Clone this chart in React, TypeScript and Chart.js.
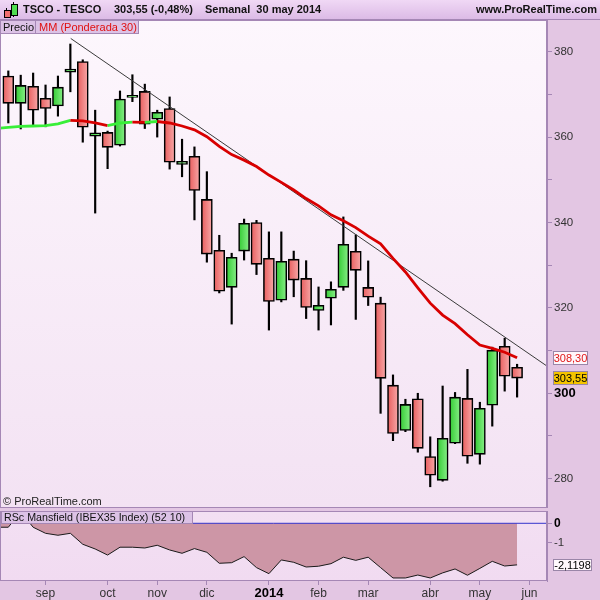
import React, { useEffect, useRef } from "react";
import { Chart, registerables } from "chart.js";
Chart.register(...registerables);

const FONT = "'Liberation Sans', Arial, Helvetica, sans-serif";

// Weekly candles (index 0 = first visible week)
const opens = [374.3, 367.9, 371.9, 369.1, 367.3, 375.2, 377.7, 360.2, 361.1, 358.1, 369.3, 370.7, 364.2, 366.7, 353.6, 355.5, 345.4, 333.5, 324.8, 333.3, 340.0, 331.6, 321.8, 331.4, 326.9, 319.4, 322.25, 324.8, 333.25, 324.8, 321.1, 301.9, 291.3, 298.7, 285.2, 279.6, 288.3, 298.8, 285.7, 297.2, 311.0, 306.1];
const highs = [375.5, 374.5, 375.0, 372.2, 374.3, 381.8, 378.1, 366.3, 361.4, 370.8, 374.6, 372.4, 366.3, 369.4, 359.5, 357.7, 351.9, 337.0, 332.8, 340.8, 340.5, 337.8, 337.8, 333.3, 331.05, 324.9, 326.1, 341.3, 337.1, 331.0, 322.5, 304.3, 298.6, 300.0, 289.8, 301.7, 300.2, 305.6, 297.9, 310.8, 312.9, 306.8];
const lows = [363.3, 361.9, 362.6, 362.4, 364.9, 370.6, 358.8, 342.2, 352.6, 357.9, 368.3, 362.0, 360.0, 352.5, 350.7, 340.6, 330.7, 323.5, 316.2, 331.2, 327.8, 314.8, 321.4, 322.6, 317.5, 314.8, 316.0, 324.1, 317.3, 320.55, 295.3, 288.9, 291.0, 286.2, 278.1, 279.4, 288.2, 283.6, 283.4, 292.3, 300.5, 299.1];
const closes = [367.9, 372.1, 366.3, 366.7, 371.7, 375.9, 362.3, 361.0, 357.6, 368.9, 369.8, 363.0, 365.8, 354.1, 354.3, 347.5, 332.6, 323.9, 331.85, 339.8, 330.2, 321.5, 330.9, 326.5, 320.1, 320.6, 324.35, 334.9, 328.8, 322.5, 303.5, 290.6, 297.4, 287.1, 280.8, 289.45, 299.1, 285.25, 296.5, 310.1, 304.0, 303.55];

// Weighted MA(30); first value belongs to the week before the first visible candle
const maValues = [362.0, 362.25, 362.5, 362.6, 362.7, 363.1, 363.9, 363.8, 363.3, 362.7, 363.3, 363.5, 363.45, 363.65, 363.3, 362.6, 361.7, 360.1, 357.8, 355.9, 354.6, 353.1, 351.1, 349.4, 347.6, 345.6, 343.9, 341.8, 340.4, 338.8, 336.8, 335.0, 331.6, 328.4, 324.7, 321.1, 318.3, 316.3, 313.7, 311.3, 310.5, 309.6, 308.3];

// RSc Mansfield; first value belongs to the week before the first visible candle
const rscValues = [-0.2, -0.2, 0.6, -0.2, -0.51, -0.61, -0.51, -1.07, -1.31, -1.62, -1.22, -1.22, -1.26, -1.12, -1.36, -1.53, -1.29, -1.48, -2.04, -2.01, -1.7, -2.26, -2.57, -1.87, -1.99, -2.23, -2.19, -2.06, -1.73, -1.89, -1.73, -2.26, -2.79, -2.79, -2.64, -2.79, -2.53, -2.33, -2.65, -2.3, -1.94, -2.18, -2.12];

// Trend line (week position, price)
const trendX = [5.03, 43.39];
const trendY = [383.1, 306.4];

const monthPositions = [3, 8, 12, 16, 21, 25, 29, 34, 38, 42];
const monthLabels = ["sep", "oct", "nov", "dic", "2014", "feb", "mar", "abr", "may", "jun"];
const priceTicks = [280, 290, 300, 310, 320, 330, 340, 350, 360, 370, 380];
const rscTicks = [0, -1];

const lastMA = 308.3;
const lastClose = 303.55;
const lastRsc = -2.1198;

const X_MIN = -0.67;
const X_MAX = 43.41;
const AXIS_W = 53;
const BORDER = "#a587b5";
const RED = "#d80000";
const LIME = "#38ee38";

const fmt = (v: number, d: number) => v.toFixed(d).replace(".", ",");

function bodyFill(c: any) {
  const raw = c.raw;
  if (!raw || !Array.isArray(raw.y)) return "#f08080";
  const up = raw.y[1] >= raw.y[0];
  const solid = up ? "#5cdc5c" : "#f08080";
  const xs = c.chart && c.chart.scales && c.chart.scales.x;
  if (!xs) return solid;
  const px = xs.getPixelForValue(raw.x);
  if (!Number.isFinite(px)) return solid;
  const g = c.chart.ctx.createLinearGradient(px - 5, 0, px + 5, 0);
  if (up) {
    g.addColorStop(0, "#36cc36");
    g.addColorStop(1, "#86ee86");
  } else {
    g.addColorStop(0, "#e86060");
    g.addColorStop(1, "#f7a6a6");
  }
  return g;
}

function drawBox(ctx: CanvasRenderingContext2D, x: number, y: number, w: number, h: number, fill: string, color: string, text: string) {
  ctx.save();
  const top = Math.round(y - h / 2);
  ctx.fillStyle = fill;
  ctx.fillRect(x, top, w, h);
  ctx.strokeStyle = "#9a86a8";
  ctx.lineWidth = 1;
  ctx.strokeRect(x + 0.5, top + 0.5, w - 1, h - 1);
  ctx.fillStyle = color;
  ctx.font = `11px ${FONT}`;
  ctx.textAlign = "center";
  ctx.textBaseline = "middle";
  ctx.fillText(text, x + w / 2, top + h / 2 + 0.5);
  ctx.restore();
}

function panelPlugin(top: string, bottom: string, boxes: (chart: any) => void) {
  return {
    id: "panel",
    beforeDraw(chart: any) {
      const { ctx, chartArea: a } = chart;
      if (!a) return;
      const g = ctx.createLinearGradient(0, a.top, 0, a.bottom);
      g.addColorStop(0, top);
      g.addColorStop(1, bottom);
      ctx.save();
      ctx.fillStyle = g;
      ctx.fillRect(a.left, a.top, a.right - a.left, a.bottom - a.top);
      ctx.restore();
    },
    afterDraw(chart: any) {
      const { ctx, chartArea: a } = chart;
      if (!a) return;
      ctx.save();
      ctx.strokeStyle = BORDER;
      ctx.lineWidth = 1;
      ctx.strokeRect(a.left + 0.5, a.top + 0.5, a.right - a.left - 1, a.bottom - a.top - 1);
      ctx.restore();
      boxes(chart);
    },
  };
}

export default function App() {
  const c1 = useRef<HTMLCanvasElement>(null);
  const c2 = useRef<HTMLCanvasElement>(null);

  useEffect(() => {
    const bodies = opens.map((o, i) => ({ x: i, y: [o, closes[i]] }));
    const wicks = lows.map((l, i) => ({ x: i, y: [l, highs[i]] }));
    const maPts = maValues.map((v, i) => ({ x: i - 1, y: v }));
    const trendPts = trendX.map((x, i) => ({ x, y: trendY[i] }));
    const rscPts = rscValues.map((v, i) => ({ x: i - 1, y: v }));

    const ch1 = new Chart(c1.current as HTMLCanvasElement, {
      type: "bar",
      data: {
        datasets: [
          {
            type: "line",
            label: "MM",
            data: maPts,
            borderWidth: 2.8,
            pointRadius: 0,
            borderColor: RED,
            segment: {
              borderColor: (s: any) => (s.p1.parsed.y >= s.p0.parsed.y ? LIME : RED),
            },
            order: 0,
          } as any,
          {
            type: "line",
            label: "trend",
            data: trendPts,
            borderWidth: 1,
            borderColor: "#3a3a3a",
            pointRadius: 0,
            order: 1,
          } as any,
          {
            type: "bar",
            label: "body",
            data: bodies,
            barThickness: 11,
            borderWidth: 1.6,
            borderColor: "#000",
            borderSkipped: false,
            backgroundColor: bodyFill,
            grouped: false,
            order: 2,
          } as any,
          {
            type: "bar",
            label: "wick",
            data: wicks,
            barThickness: 1.5,
            borderWidth: 0,
            backgroundColor: "#000",
            grouped: false,
            order: 3,
          } as any,
        ],
      },
      options: {
        animation: false,
        responsive: false,
        maintainAspectRatio: false,
        devicePixelRatio: 1,
        layout: { padding: 0 },
        plugins: { legend: { display: false }, tooltip: { enabled: false } },
        scales: {
          x: { type: "linear", min: X_MIN, max: X_MAX, display: false, offset: false },
          y: {
            type: "linear",
            position: "right",
            min: 273.13,
            max: 387.42,
            afterBuildTicks: (s: any) => {
              s.ticks = priceTicks.map((v) => ({ value: v }));
            },
            afterFit: (s: any) => {
              s.width = AXIS_W;
              s.paddingTop = 0;
              s.paddingBottom = 0;
            },
            grid: { drawOnChartArea: false, drawTicks: true, tickLength: 5, color: BORDER },
            border: { display: true, color: BORDER },
            ticks: {
              padding: 2,
              callback: (v: any) => (Number(v) % 20 === 0 ? String(v) : ""),
              font: (c: any) =>
                c.tick && c.tick.value === 300
                  ? { family: FONT, size: 13, weight: "bold" }
                  : { family: FONT, size: 11.5 },
              color: (c: any) => (c.tick && c.tick.value === 300 ? "#000" : "#333"),
            },
          },
        },
      } as any,
      plugins: [
        panelPlugin("#fdf7fd", "#f3e2f3", (chart: any) => {
          const y = chart.scales.y;
          const a = chart.chartArea;
          drawBox(chart.ctx, a.right + 6, y.getPixelForValue(lastMA), 35, 14, "#fff6fb", "#e01818", fmt(lastMA, 2));
          drawBox(chart.ctx, a.right + 6, y.getPixelForValue(lastClose), 35, 14, "#f4c400", "#000", fmt(lastClose, 2));
        }),
      ],
    });

    const ch2 = new Chart(c2.current as HTMLCanvasElement, {
      type: "line",
      data: {
        datasets: [
          {
            label: "zero",
            data: [
              { x: -1, y: 0 },
              { x: 44, y: 0 },
            ],
            borderColor: "#3434cc",
            borderWidth: 1,
            pointRadius: 0,
            order: 0,
          },
          {
            label: "RSc",
            data: rscPts,
            borderColor: "#1a1a1a",
            borderWidth: 1,
            pointRadius: 0,
            fill: { value: 0 },
            backgroundColor: "rgb(205,150,166)",
            order: 1,
          },
        ],
      },
      options: {
        animation: false,
        responsive: false,
        maintainAspectRatio: false,
        devicePixelRatio: 1,
        layout: { padding: { top: 1, left: 0, right: 0, bottom: 0 } },
        plugins: { legend: { display: false }, tooltip: { enabled: false } },
        scales: {
          x: {
            type: "linear",
            min: X_MIN,
            max: X_MAX,
            position: "bottom",
            afterBuildTicks: (s: any) => {
              s.ticks = monthPositions.map((v) => ({ value: v }));
            },
            afterFit: (s: any) => {
              s.height = 19;
              s.paddingLeft = 0;
              s.paddingRight = 0;
            },
            grid: { drawOnChartArea: false, drawTicks: true, tickLength: 4, color: BORDER },
            border: { display: false },
            ticks: {
              autoSkip: false,
              maxRotation: 0,
              padding: 1,
              callback: (v: any) => {
                const k = monthPositions.indexOf(Number(v));
                return k >= 0 ? monthLabels[k] : "";
              },
              font: (c: any) =>
                c.tick && c.tick.value === 21
                  ? { family: FONT, size: 13, weight: "bold" }
                  : { family: FONT, size: 12 },
              color: (c: any) => (c.tick && c.tick.value === 21 ? "#000" : "#333"),
            },
          },
          y: {
            type: "linear",
            position: "right",
            min: -2.944,
            max: 0.628,
            afterBuildTicks: (s: any) => {
              s.ticks = rscTicks.map((v) => ({ value: v }));
            },
            afterFit: (s: any) => {
              s.width = AXIS_W;
              s.paddingTop = 0;
              s.paddingBottom = 0;
            },
            grid: { drawOnChartArea: false, drawTicks: true, tickLength: 5, color: BORDER },
            border: { display: true, color: BORDER },
            ticks: {
              padding: 2,
              callback: (v: any) => String(v),
              font: (c: any) =>
                c.tick && c.tick.value === 0
                  ? { family: FONT, size: 12, weight: "bold" }
                  : { family: FONT, size: 11.5 },
              color: (c: any) => (c.tick && c.tick.value === 0 ? "#000" : "#333"),
            },
          },
        },
      } as any,
      plugins: [
        panelPlugin("#f3e0f3", "#f1dbf1", (chart: any) => {
          const y = chart.scales.y;
          const a = chart.chartArea;
          drawBox(chart.ctx, a.right + 6, y.getPixelForValue(lastRsc), 39, 12, "#fff8fc", "#000", fmt(lastRsc, 4));
        }),
      ],
    });

    return () => {
      ch1.destroy();
      ch2.destroy();
    };
  }, []);

  const boxStyle: React.CSSProperties = {
    position: "absolute",
    boxSizing: "border-box",
    height: 14,
    background: "#dcc2e6",
    border: `1px solid ${BORDER}`,
    fontSize: 11,
    lineHeight: "12px",
    paddingLeft: 2,
    whiteSpace: "nowrap",
    overflow: "hidden",
  };

  return (
    <div
      style={{
        position: "absolute",
        left: 0,
        top: 0,
        width: 600,
        height: 600,
        overflow: "hidden",
        background: "#e3c6e3",
        fontFamily: FONT,
        color: "#111",
      }}
    >
      <canvas ref={c1} width={600} height={488} style={{ position: "absolute", left: 0, top: 20, width: 600, height: 488 }} />
      <canvas ref={c2} width={600} height={90} style={{ position: "absolute", left: 0, top: 510, width: 600, height: 90 }} />

      {/* header */}
      <div
        style={{
          position: "absolute",
          left: 0,
          top: 0,
          width: 600,
          height: 20,
          boxSizing: "border-box",
          background: "linear-gradient(#f0d8f5, #dcbbe6)",
          borderBottom: `1px solid ${BORDER}`,
          fontSize: 11,
          fontWeight: "bold",
          lineHeight: "19px",
          whiteSpace: "nowrap",
        }}
      >
        <div style={{ position: "absolute", left: 6, top: 8, width: 1, height: 10, background: "#000" }} />
        <div style={{ position: "absolute", left: 4, top: 10, width: 5, height: 6, background: "#f07070", border: "1px solid #000" }} />
        <div style={{ position: "absolute", left: 13, top: 2, width: 1, height: 15, background: "#000" }} />
        <div style={{ position: "absolute", left: 11, top: 4, width: 5, height: 10, background: "#50dc50", border: "1px solid #000" }} />
        <span style={{ position: "absolute", left: 23, top: 0 }}>TSCO - TESCO</span>
        <span style={{ position: "absolute", left: 114, top: 0 }}>303,55 (-0,48%)</span>
        <span style={{ position: "absolute", left: 205, top: 0 }}>Semanal&nbsp;&nbsp;30 may 2014</span>
        <span style={{ position: "absolute", right: 3, top: 0 }}>www.ProRealTime.com</span>
      </div>

      {/* price panel labels */}
      <div style={{ ...boxStyle, left: 0, top: 20, width: 36 }}>Precio</div>
      <div style={{ ...boxStyle, left: 35, top: 20, width: 104, color: "#e01010", paddingLeft: 3 }}>MM (Ponderada 30)</div>
      <div style={{ position: "absolute", left: 3, top: 495, fontSize: 11, lineHeight: "13px", color: "#222" }}>© ProRealTime.com</div>

      {/* indicator panel label */}
      <div style={{ ...boxStyle, left: 1, top: 511, width: 192, height: 13, paddingLeft: 2, fontSize: 10.7, lineHeight: "11px" }}>RSc Mansfield (IBEX35 Index) (52 10)</div>
    </div>
  );
}
